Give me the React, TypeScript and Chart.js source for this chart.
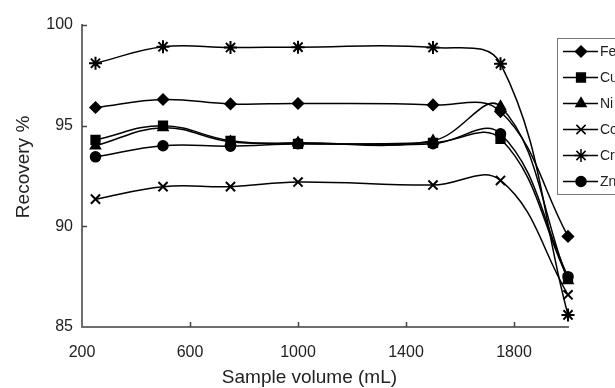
import React, { useEffect, useRef } from "react";
import { Chart, registerables } from "chart.js";
import { drawPoint } from "chart.js/helpers";

Chart.register(...registerables);

const volumes = [250, 500, 750, 1000, 1500, 1750, 2000];
const fe = [95.9, 96.3, 96.08, 96.1, 96.03, 95.7, 89.5];
const cu = [94.3, 95.0, 94.25, 94.1, 94.15, 94.35, 87.4];
const ni = [94.0, 94.9, 94.2, 94.15, 94.25, 95.95, 87.3];
const co = [91.35, 91.97, 91.97, 92.2, 92.05, 92.28, 86.6];
const cr = [98.1, 98.92, 98.88, 98.9, 98.88, 98.08, 85.6];
const zn = [93.45, 94.0, 93.98, 94.1, 94.1, 94.6, 87.5];

const seriesNames = ["Fe", "Cu", "Ni", "Co", "Cr", "Zn"];
const seriesValues = [fe, cu, ni, co, cr, zn];
const markerStyles = ["rectRot", "rect", "triangle", "crossRot", "star", "circle"];
const markerRadius = [5.5, 6.2, 5.8, 6.5, 6.5, 5];
const markerBorder = [1.5, 1.5, 1.5, 2, 2, 1.5];

const xTicks = [200, 600, 1000, 1400, 1800];
const yTicks = [85, 90, 95, 100];

const FONT = "'Liberation Sans', Arial, sans-serif";
const AXIS_COLOR = "#6e6e6e";
const TEXT_COLOR = "#222";

export default function App() {
  const ref = useRef<HTMLCanvasElement | null>(null);

  useEffect(() => {
    if (!ref.current) return;

    const decorations = {
      id: "decorations",
      afterDraw(chart: any) {
        const ctx = chart.ctx;
        const xs = chart.scales.x;
        const ys = chart.scales.y;
        const area = chart.chartArea;
        ctx.save();
        // inward ticks
        ctx.strokeStyle = "#444";
        ctx.lineWidth = 1.5;
        xTicks.forEach((v) => {
          if (v === xs.min) return;
          const px = Math.round(xs.getPixelForValue(v)) + 0.5;
          ctx.beginPath();
          ctx.moveTo(px, area.bottom);
          ctx.lineTo(px, area.bottom - 5);
          ctx.stroke();
        });
        yTicks.forEach((v) => {
          if (v === ys.min) return;
          const py = Math.round(ys.getPixelForValue(v)) + 0.5;
          ctx.beginPath();
          ctx.moveTo(area.left, py);
          ctx.lineTo(area.left + 5, py);
          ctx.stroke();
        });
        // axis titles
        ctx.fillStyle = TEXT_COLOR;
        ctx.font = `19px ${FONT}`;
        ctx.textAlign = "center";
        ctx.textBaseline = "middle";
        ctx.fillText("Sample volume (mL)", area.left + area.width * 0.468, 378);
        ctx.save();
        ctx.translate(24, area.top + area.height * 0.47);
        ctx.rotate(-Math.PI / 2);
        ctx.fillText("Recovery %", 0, 0);
        ctx.restore();

        // legend
        const lx = 557;
        const ly = 38;
        const rowH = 26;
        ctx.strokeStyle = "#777";
        ctx.lineWidth = 1;
        ctx.strokeRect(lx + 0.5, ly + 0.5, 80, rowH * seriesNames.length);
        ctx.font = `14px ${FONT}`;
        ctx.textAlign = "left";
        ctx.textBaseline = "middle";
        seriesNames.forEach((name, i) => {
          const y = ly + 13.5 + i * rowH;
          ctx.strokeStyle = "#000";
          ctx.lineWidth = 1.5;
          ctx.beginPath();
          ctx.moveTo(lx + 6, y);
          ctx.lineTo(lx + 41, y);
          ctx.stroke();
          ctx.fillStyle = "#000";
          drawPoint(ctx, {
            pointStyle: markerStyles[i],
            radius: markerRadius[i],
            rotation: 0,
            borderWidth: markerBorder[i],
          }, lx + 24, y);
          ctx.fillStyle = TEXT_COLOR;
          ctx.fillText(name, lx + 43, y + 1);
        });
        ctx.restore();
      },
    };

    const chart = new Chart(ref.current, {
      type: "line",
      data: {
        datasets: seriesNames.map((name, i) => ({
          label: name,
          data: volumes.map((x, j) => ({ x, y: seriesValues[i][j] })),
          borderColor: "#000",
          backgroundColor: "#000",
          borderWidth: 1.5,
          pointStyle: markerStyles[i] as any,
          pointRadius: markerRadius[i],
          pointBorderWidth: markerBorder[i],
          pointBorderColor: "#000",
          pointBackgroundColor: "#000",
          tension: 0.4,
          clip: false as any,
        })),
      },
      options: {
        animation: false,
        responsive: false,
        devicePixelRatio: 1,
        layout: { padding: { left: 0, right: 47, top: 25, bottom: 0 } },
        plugins: {
          legend: { display: false },
          tooltip: { enabled: false },
        },
        scales: {
          x: {
            type: "linear",
            min: 200,
            max: 2000,
            afterBuildTicks: (scale: any) => {
              scale.ticks = xTicks.map((v) => ({ value: v }));
            },
            afterFit: (scale: any) => {
              scale.height = 61;
            },
            grid: { display: false, drawTicks: false },
            border: { display: true, color: AXIS_COLOR, width: 2 },
            ticks: {
              padding: 16,
              color: TEXT_COLOR,
              font: { family: FONT, size: 16 },
              maxRotation: 0,
              callback: (v: any) => String(v),
            },
          },
          y: {
            type: "linear",
            min: 85,
            max: 100,
            afterBuildTicks: (scale: any) => {
              scale.ticks = yTicks.map((v) => ({ value: v }));
            },
            afterFit: (scale: any) => {
              scale.width = 82;
            },
            grid: { display: false, drawTicks: false },
            border: { display: true, color: AXIS_COLOR, width: 2 },
            ticks: {
              padding: 9,
              color: TEXT_COLOR,
              font: { family: FONT, size: 16 },
              callback: (v: any) => String(v),
            },
          },
        },
      },
      plugins: [decorations],
    });
    return () => chart.destroy();
  }, []);

  return (
    <div style={{ position: "fixed", left: 0, top: 0, width: 615, height: 388, background: "#fff", overflow: "hidden" }}>
      <canvas ref={ref} width={615} height={388} style={{ display: "block" }} />
    </div>
  );
}
